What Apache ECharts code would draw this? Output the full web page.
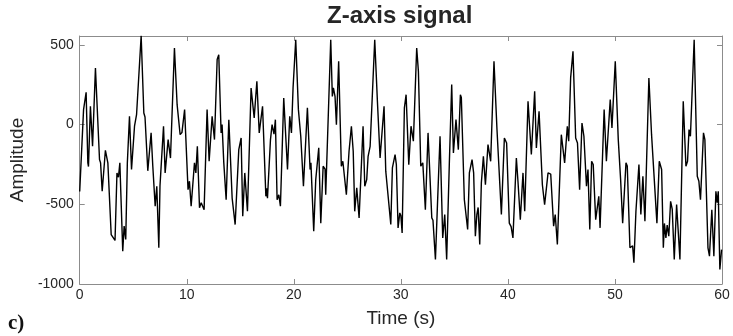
<!DOCTYPE html>
<html>
<head>
<meta charset="utf-8">
<script src="https://cdn.jsdelivr.net/npm/echarts@6/dist/echarts.min.js"></script>
<style>html,body{margin:0;padding:0;background:#fff;}#c{width:733px;height:336px;}</style>
</head>
<body>
<div id="c"></div>
<script>
const times = [0.0,0.36,0.6,0.76,0.82,1.0,1.2,1.47,1.85,1.95,2.1,2.4,2.63,2.94,3.1,3.3,3.48,3.62,3.75,4.02,4.15,4.3,4.45,4.65,4.84,5.12,5.31,5.74,5.99,6.1,6.36,6.67,6.83,7.05,7.2,7.39,7.5,7.65,7.83,7.98,8.26,8.48,8.85,9.1,9.38,9.55,9.8,10.12,10.25,10.41,10.72,10.85,10.99,11.19,11.35,11.5,11.62,11.9,12.09,12.37,12.59,12.84,12.99,13.21,13.3,13.46,13.68,13.93,14.24,14.3,14.52,14.86,15.08,15.23,15.42,15.67,16.01,16.15,16.3,16.55,16.77,17.08,17.39,17.48,17.54,17.82,17.97,18.15,18.28,18.44,18.6,18.75,19.06,19.41,19.62,19.78,19.93,20.18,20.43,20.65,20.9,21.27,21.52,21.6,21.86,22.05,22.33,22.52,22.74,22.92,22.98,23.45,23.6,23.7,23.85,23.98,24.19,24.44,24.58,24.91,25.16,25.38,25.55,25.69,25.88,26.1,26.47,26.63,26.81,26.94,27.13,27.56,27.81,28.06,28.43,28.59,29.06,29.21,29.46,29.58,29.74,29.9,30.0,30.12,30.33,30.49,30.74,30.95,31.17,31.48,31.64,31.86,32.05,32.29,32.54,32.89,33.0,33.23,33.42,33.66,33.91,34.1,34.28,34.53,34.75,34.91,35.15,35.37,35.56,35.65,35.93,36.24,36.4,36.65,36.8,36.96,37.1,37.22,37.37,37.52,37.71,37.9,38.14,38.39,38.7,38.98,39.39,39.67,39.88,40.13,40.3,40.47,40.79,40.94,41.16,41.41,41.57,41.88,42.19,42.5,42.66,42.91,43.22,43.43,43.6,43.75,44.0,44.27,44.42,44.62,44.99,45.3,45.55,45.68,45.86,46.08,46.33,46.5,46.7,46.92,47.1,47.34,47.48,47.65,47.82,47.97,48.2,48.49,48.61,48.99,49.2,49.56,49.72,50.03,50.15,50.31,50.53,50.72,51.03,51.15,51.4,51.65,51.77,51.96,52.24,52.42,52.61,52.8,53.17,53.42,53.55,53.92,54.14,54.36,54.52,54.62,54.76,54.88,55.03,55.2,55.35,55.54,55.76,56.07,56.38,56.63,56.78,56.92,57.05,57.4,57.69,57.84,57.99,58.27,58.4,58.69,58.83,59.05,59.24,59.43,59.55,59.65,59.8,59.96];
const amplitude = [-420,94,203,-240,-263,115,-135,355,-219,-240,-418,-161,-240,-690,-680,-727,-303,-330,-240,-794,-637,-720,-240,52,-282,-10,62,558,73,48,-290,-52,-263,-512,-387,-773,-383,-375,-10,-303,-94,-210,481,125,-63,-50,94,-408,-355,-512,-240,-303,-136,-522,-490,-500,-534,94,-230,52,-94,408,439,-52,0,-240,-471,31,-461,-470,-627,-157,-84,-575,-303,-544,230,225,42,272,-52,115,-450,-400,-461,-94,0,-60,31,-471,-440,-512,167,-282,52,-52,230,533,94,-73,-387,105,-282,-240,-669,-345,-146,-618,-261,-280,-440,533,177,230,177,0,397,-261,-230,-440,-167,-10,-167,-544,-397,-585,-10,-387,-345,-199,-136,533,146,-209,115,-292,-627,-272,-188,-251,-648,-554,-570,-680,105,188,-251,-10,-104,481,334,-261,-240,-534,-52,-585,-600,-846,-502,-73,-711,-564,-846,-240,251,-178,31,-157,188,170,-471,-658,-303,-220,-303,-700,-564,-520,-752,-366,-199,-377,-125,-230,397,-31,-564,-84,-115,-618,-640,-711,-209,-355,-596,-303,-544,146,-188,209,-146,84,-377,-502,-397,-303,-310,-637,-564,-752,-63,-240,-10,-104,293,460,-84,-115,-408,10,-73,-387,-282,-658,-230,-250,-596,-450,-648,94,-230,157,-21,397,408,-94,-345,-618,-240,-260,-773,-760,-867,-544,-251,-564,-324,-606,293,-63,-73,-618,-230,-282,-773,-620,-711,-630,-700,-481,-530,-846,-502,-846,146,-261,-230,-31,-73,533,-324,-355,-471,-52,-94,-773,-825,-534,-825,-418,-490,-418,-909,-784];
const xTicks = [0,10,20,30,40,50,60];
const yTicks = [-1000,-500,0,500];

const chart = echarts.init(document.getElementById('c'), null, {renderer:'canvas'});
const font = '"Liberation Sans", Arial, Helvetica, sans-serif';
const boxColor = '#8c8c8c';
const txt = '#262626';
const baseX = {type:'value', min:0, max:60, interval:10, splitLine:{show:false},
  axisLine:{show:true, onZero:false, lineStyle:{color:boxColor, width:1}},
  axisTick:{show:true, inside:true, length:5, lineStyle:{color:boxColor}}};
const baseY = {type:'value', min:-1000, max:556, interval:500, splitLine:{show:false},
  axisLine:{show:true, onZero:false, lineStyle:{color:boxColor, width:1}},
  axisTick:{show:true, inside:true, length:5, lineStyle:{color:boxColor}}};
const data = times.map((t,i)=>[t, amplitude[i]]);
chart.setOption({
  animation:false,
  backgroundColor:'#ffffff',
  title:{text:'Z-axis signal', left:327, top:4, padding:0,
    textStyle:{fontFamily:font, fontWeight:'bold', fontSize:24, color:txt}},
  grid:{left:79.5, right:11, top:36, bottom:52, containLabel:false},
  xAxis:[
    Object.assign({}, baseX, {position:'bottom', name:'Time (s)', nameLocation:'middle', nameGap:25,
      nameTextStyle:{fontFamily:font, fontSize:19, color:txt},
      axisLabel:{show:true, margin:4, fontFamily:font, fontSize:14, color:txt,
        formatter:v=> xTicks.includes(v) ? String(v) : ''}}),
    Object.assign({}, baseX, {position:'top', axisLabel:{show:false}})
  ],
  yAxis:[
    Object.assign({}, baseY, {position:'left', name:'Amplitude', nameLocation:'middle', nameGap:50,
      nameTextStyle:{fontFamily:font, fontSize:19, color:txt},
      axisLabel:{show:true, margin:6, fontFamily:font, fontSize:14, color:txt, showMaxLabel:false,
        formatter:v=> yTicks.includes(v) ? String(v) : ''}}),
    Object.assign({}, baseY, {position:'right', axisLabel:{show:false}})
  ],
  graphic:[{type:'text', left:8, top:313, style:{text:'c)', fontFamily:'"Liberation Serif", "DejaVu Serif", serif', fontWeight:'bold', fontSize:21, fill:'#111'}}],
  series:[{type:'line', data:data, xAxisIndex:0, yAxisIndex:0, showSymbol:false, symbol:'none',
    lineStyle:{color:'#000', width:1.4}, smooth:false}]
});
</script>
</body>
</html>
